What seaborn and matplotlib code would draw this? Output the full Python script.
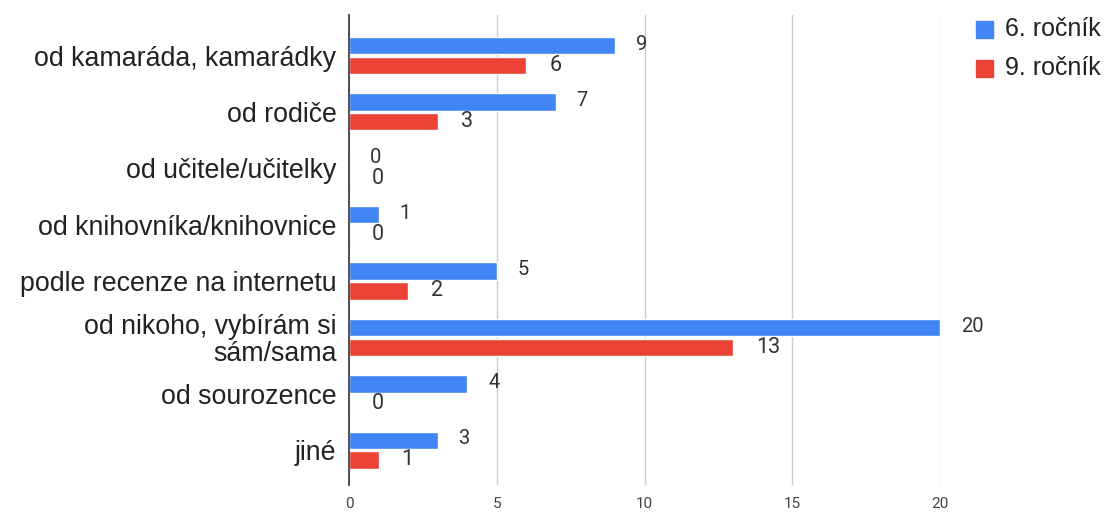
import matplotlib
matplotlib.use("Agg")
import matplotlib.pyplot as plt
import seaborn as sns
import pandas as pd

categories = [
    "od kamaráda, kamarádky",
    "od rodiče",
    "od učitele/učitelky",
    "od knihovníka/knihovnice",
    "podle recenze na internetu",
    "od nikoho, vybírám si\nsám/sama",
    "od sourozence",
    "jiné",
]
grade6 = [9, 7, 0, 1, 5, 20, 4, 3]
grade9 = [6, 3, 0, 0, 2, 13, 0, 1]
series_names = ["6. ročník", "9. ročník"]
x_ticks = [0, 5, 10, 15, 20]

colors = ["#4285F4", "#EA4335"]

df = pd.DataFrame({
    "kategorie": categories * 2,
    "počet": grade6 + grade9,
    "ročník": [series_names[0]] * len(categories) + [series_names[1]] * len(categories),
})

sns.set_style("white")
plt.rcParams["font.family"] = ["Roboto", "DejaVu Sans"]
label_font = ["Liberation Sans", "DejaVu Sans"]

fig = plt.figure(figsize=(11.07, 5.14), dpi=100)
ax = fig.add_axes([349 / 1107, 1 - 485 / 514, (940 - 349) / 1107, 470 / 514])

sns.barplot(
    data=df, y="kategorie", x="počet", hue="ročník", order=categories,
    hue_order=series_names, palette=colors, orient="h",
    width=0.7, gap=0.12, ax=ax, legend=False, saturation=1,
)

ax.set_xlim(0, 20)
ax.set_ylim(7.62, -0.72)
ax.set_xticks(x_ticks)
ax.set_xticklabels([str(t) for t in x_ticks], fontsize=11, color="#444444")
ax.tick_params(axis="x", length=0, pad=9)
ax.tick_params(axis="y", length=0, pad=9)
for lbl in ax.get_yticklabels():
    lbl.set_fontfamily(label_font)
    lbl.set_fontsize(19.3)
    lbl.set_color("#222222")
    lbl.set_linespacing(1.05)
ax.set_xlabel("")
ax.set_ylabel("")
ax.grid(axis="x", color="#cccccc", linewidth=1)
ax.set_axisbelow(True)
for side in ["top", "right", "bottom"]:
    ax.spines[side].set_visible(False)
ax.spines["left"].set_color("#333333")
ax.spines["left"].set_linewidth(1.2)
ax.spines["left"].set_zorder(5)

# value labels just past the end of each bar (offsets in points)
for container, vals, dx, dy, fs in zip(ax.containers, [grade6, grade9],
                                       [15.0, 16.5], [1.0, 0.0], [14.5, 15.5]):
    for bar, v in zip(container, vals):
        y = bar.get_y() + bar.get_height() / 2
        ax.annotate(str(v), xy=(bar.get_width(), y), xytext=(dx, dy),
                    textcoords="offset points", ha="left", va="center",
                    fontsize=fs, color="#333333", annotation_clip=False)

# legend
for i, (name, c) in enumerate(zip(series_names, colors)):
    y = 29 + i * 39
    fig.patches.append(plt.Rectangle((976 / 1107, 1 - (y + 8.5) / 514), 17 / 1107, 17 / 514,
                                     transform=fig.transFigure, color=c, figure=fig))
    fig.text(1005 / 1107, 1 - y / 514, name, fontsize=18, color="#222222",
             va="center", ha="left", family=label_font)

fig.savefig("out.png", dpi=100)
